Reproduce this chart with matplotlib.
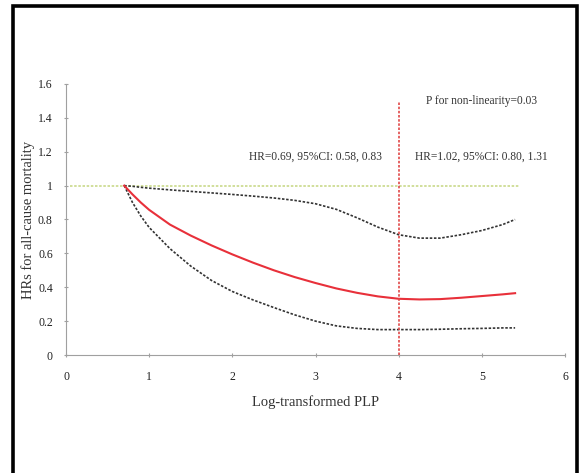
import numpy as np
from matplotlib import pyplot as plt
from matplotlib.patches import Rectangle

# Spline values
plp = [0.7, 0.8, 0.9, 1.0, 1.25, 1.5, 1.75, 2.0, 2.25, 2.5, 2.75, 3.0, 3.25,
       3.5, 3.75, 4.0, 4.25, 4.5, 4.75, 5.0, 5.25, 5.4]
hr = [1.0, 0.948, 0.90, 0.857, 0.77, 0.705, 0.647, 0.594, 0.545, 0.50, 0.46, 0.425, 0.393,
      0.367, 0.346, 0.332, 0.328, 0.33, 0.338, 0.348, 0.358, 0.365]
ci_upper = [1.0, 0.996, 0.99, 0.985, 0.975, 0.966, 0.957, 0.948, 0.938, 0.927, 0.913, 0.893, 0.86,
            0.81, 0.755, 0.71, 0.69, 0.69, 0.71, 0.735, 0.77, 0.80]
ci_lower = [1.0, 0.90, 0.82, 0.753, 0.628, 0.525, 0.44, 0.375, 0.325, 0.28, 0.237, 0.2, 0.172,
            0.157, 0.15, 0.15, 0.15, 0.152, 0.155, 0.157, 0.16, 0.16]

ref_x = [0.05, 5.45]
ref_y = [1.0, 1.0]
knot_x = 4.0
knot_top = 1.5

xticks = [0, 1, 2, 3, 4, 5, 6]
yticks = [0, 0.2, 0.4, 0.6, 0.8, 1.0, 1.2, 1.4, 1.6]
ytick_labels = ['0', '0.2', '0.4', '0.6', '0.8', '1', '1.2', '1.4', '1.6']

plt.rcParams['font.family'] = ['Liberation Serif', 'DejaVu Serif']

fig = plt.figure(figsize=(5.84, 4.73), dpi=100)
ax = fig.add_axes([66 / 584, 1 - 355 / 473, (565 - 66) / 584, (355 - 84) / 473])

# outer frame around the figure
fig.patches.append(Rectangle((13 / 584, -0.02), (577 - 13) / 584, 1 - 6 / 473 + 0.02,
                             transform=fig.transFigure, fill=False,
                             edgecolor='black', linewidth=2.6))

ax.plot(ref_x, ref_y, color='#c9d98a', linestyle=(0, (1.5, 1)), linewidth=1.2)
ax.plot(plp, ci_upper, color='#333333', linestyle=(0, (1.5, 1)), linewidth=1.2)
ax.plot(plp, ci_lower, color='#333333', linestyle=(0, (1.5, 1)), linewidth=1.2)
ax.plot(plp, hr, color='#e8303a', linewidth=1.5)
ax.plot([knot_x, knot_x], [0, knot_top], color='#e04848',
        linestyle=(0, (1.5, 1)), linewidth=1.2)

ax.text(5.0, 1.5, 'P for non-linearity=0.03', ha='center', va='center', fontsize=8.3, color='#333333')
ax.text(3.0, 1.17, 'HR=0.69, 95%CI: 0.58, 0.83', ha='center', va='center', fontsize=8.3, color='#333333')
ax.text(5.0, 1.17, 'HR=1.02, 95%CI: 0.80, 1.31', ha='center', va='center', fontsize=8.3, color='#333333')

ax.set_xlim(0, 6)
ax.set_ylim(0, 1.6)
ax.set_xticks(xticks)
ax.set_yticks(yticks)
ax.set_yticklabels(ytick_labels)
for side in ['top', 'right']:
    ax.spines[side].set_visible(False)
for side in ['left', 'bottom']:
    ax.spines[side].set_color('#a0a0a0')
    ax.spines[side].set_linewidth(0.8)
ax.tick_params(direction='inout', length=3, color='#a0a0a0', labelsize=8.5,
               labelcolor='#222222')
ax.tick_params(axis='y', pad=8)
ax.tick_params(axis='x', pad=10)
ax.set_xlabel('Log-transformed PLP', fontsize=10.5, color='#333333', labelpad=9)
ax.set_ylabel('HRs for all-cause mortality', fontsize=10.5, color='#333333', labelpad=2)

fig.savefig('out.png', dpi=100)
